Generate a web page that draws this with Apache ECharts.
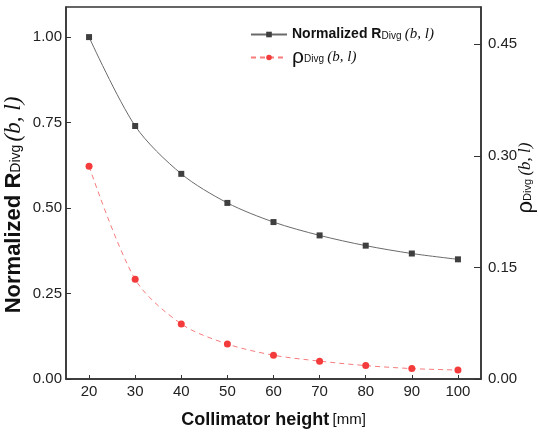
<!DOCTYPE html>
<html>
<head>
<meta charset="utf-8">
<script src="https://cdn.jsdelivr.net/npm/echarts@6/dist/echarts.min.js"></script>
<style>
  html, body { margin: 0; padding: 0; background: #fff; }
  #chart { width: 538px; height: 432px; }
</style>
</head>
<body>
<div id="chart"></div>
<script>
// Data
var heights = [20, 30, 40, 50, 60, 70, 80, 90, 100];
var normR = [1.0, 0.74, 0.6, 0.515, 0.459, 0.42, 0.39, 0.367, 0.35];
var rho = [0.286, 0.134, 0.074, 0.047, 0.032, 0.024, 0.018, 0.014, 0.012];
var xTicks = [20, 30, 40, 50, 60, 70, 80, 90, 100];
var leftTicks = [0, 0.25, 0.5, 0.75, 1.0];
var rightTicks = [0, 0.15, 0.3, 0.45];

var FONT = "Liberation Sans";
var SERIF = "Liberation Serif";
var AXIS = "#333";

function pairs(xs, ys) {
  return xs.map(function (x, i) { return [x, ys[i]]; });
}

var rich = {
  b: { fontFamily: FONT, fontWeight: "bold", fontSize: 14, color: "#111" },
  sub: { fontFamily: FONT, fontSize: 10, color: "#111", padding: [4, 0, 0, 0] },
  it: { fontFamily: SERIF, fontStyle: "italic", fontSize: 15, color: "#111" },
  rho: { fontFamily: FONT, fontSize: 21, color: "#111" }
};

var chart = echarts.init(document.getElementById("chart"));
var option = {
  animation: false,
  grid: {
    left: 66, right: 57, top: 7, bottom: 53,
    outerBoundsMode: "none",
    containLabel: false,
    show: true, borderColor: AXIS, borderWidth: 1.5
  },
  legend: {
    orient: "vertical",
    left: 245, top: 22,
    itemWidth: 36, itemHeight: 7, itemGap: 5,
    data: ["norm", "rho"],
    formatter: function (name) {
      if (name === "norm") return "{b|Normalized R}{sub|Divg} {it|(b, l)}";
      return "{rho|ρ}{sub|Divg} {it|(b, l)}";
    },
    textStyle: { rich: rich }
  },
  xAxis: {
    type: "value",
    min: 15, max: 105,
    name: "{t|Collimator height} {u|[mm]}",
    nameLocation: "middle", nameGap: 32,
    nameTextStyle: {
      rich: {
        t: { fontFamily: FONT, fontWeight: "bold", fontSize: 18, color: "#111" },
        u: { fontFamily: FONT, fontSize: 15, color: "#111" }
      }
    },
    axisLine: { lineStyle: { color: AXIS, width: 1.5 } },
    axisTick: { inside: true, length: 4, customValues: xTicks, lineStyle: { color: AXIS } },
    axisLabel: { customValues: xTicks, fontFamily: FONT, fontSize: 15, color: "#222", margin: 5 },
    splitLine: { show: false }
  },
  yAxis: [
    {
      type: "value",
      min: 0, max: 1.088,
      position: "left",
      name: "{b|Normalized R}{sub|Divg} {it|(b, l)}",
      nameLocation: "middle", nameGap: 40, nameRotate: 90,
      nameMoveOverlap: false,
      nameTextStyle: {
        padding: [0, 24, 0, 0],
        rich: {
          b: { fontFamily: FONT, fontWeight: "bold", fontSize: 22, lineHeight: 24, color: "#111" },
          sub: { fontFamily: FONT, fontSize: 14, lineHeight: 24, color: "#111", padding: [5, 0, 0, 0] },
          it: { fontFamily: SERIF, fontStyle: "italic", fontSize: 23, lineHeight: 24, color: "#111" }
        }
      },
      axisLine: { show: true, lineStyle: { color: AXIS, width: 1.5 } },
      axisTick: { inside: true, length: 5, customValues: leftTicks, lineStyle: { color: AXIS } },
      axisLabel: {
        customValues: leftTicks, fontFamily: FONT, fontSize: 15, color: "#222", margin: 4,
        formatter: function (v) { return v.toFixed(2); }
      },
      splitLine: { show: false }
    },
    {
      type: "value",
      min: 0, max: 0.5,
      position: "right",
      name: "{rho|ρ}{sub|Divg} {it|(b, l)}",
      nameLocation: "middle", nameGap: 35, nameRotate: 90,
      nameMoveOverlap: false,
      nameTextStyle: {
        padding: [0, 0, 0, 30],
        rich: {
          rho: { fontFamily: FONT, fontSize: 22, lineHeight: 20, color: "#111" },
          sub: { fontFamily: FONT, fontSize: 11, lineHeight: 20, color: "#111", padding: [4, 0, 0, 0] },
          it: { fontFamily: SERIF, fontStyle: "italic", fontSize: 17, lineHeight: 20, color: "#111" }
        }
      },
      axisLine: { show: true, lineStyle: { color: AXIS, width: 1.5 } },
      axisTick: { inside: true, length: 7, customValues: rightTicks, lineStyle: { color: AXIS } },
      axisLabel: {
        customValues: rightTicks, fontFamily: FONT, fontSize: 15, color: "#222", margin: 7,
        formatter: function (v) { return v.toFixed(2); }
      },
      splitLine: { show: false }
    }
  ],
  series: [
    {
      name: "norm",
      type: "line",
      yAxisIndex: 0,
      data: pairs(heights, normR),
      smooth: 0.3,
      symbol: "rect",
      symbolSize: 6,
      itemStyle: { color: "#3f3f3f" },
      lineStyle: { color: "#6a6a6a", width: 1 }
    },
    {
      name: "rho",
      type: "line",
      yAxisIndex: 1,
      data: pairs(heights, rho),
      smooth: 0.3,
      symbol: "circle",
      symbolSize: 7,
      itemStyle: { color: "#f43b3b" },
      lineStyle: { color: "#f77b7b", width: 1, type: [5, 4] }
    }
  ]
};
chart.setOption(option);

window.addEventListener("resize", function () {
  chart.resize();
});
</script>
</body>
</html>
